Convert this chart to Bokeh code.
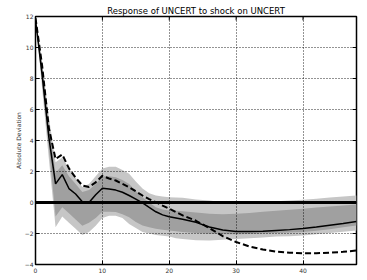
from bokeh.plotting import figure
from bokeh.models import (ColumnDataSource, Range1d, FixedTicker, Span,
                          CustomJSTickFormatter)
from bokeh.embed import file_html
from bokeh.resources import INLINE

# ---- data ----
steps = [0, 1, 2, 3, 4, 5, 6, 7, 8, 9, 10, 11, 12, 13, 14, 15, 16, 17, 18, 19, 20,
         21, 22, 24, 26, 28, 30, 32, 34, 36, 38, 40, 42, 44, 46, 48]
median = [11.8, 8.2, 4.2, 1.2, 1.8, 0.9, 0.55, 0.05, 0.0, 0.5, 0.92, 0.87, 0.8, 0.66, 0.45,
          0.22, -0.03, -0.32, -0.6, -0.8, -0.92, -1.0, -1.08, -1.28, -1.58, -1.78, -1.87,
          -1.87, -1.85, -1.8, -1.75, -1.68, -1.58, -1.47, -1.36, -1.23]
point_est = [11.9, 8.8, 4.8, 2.8, 3.1, 2.2, 1.6, 1.1, 1.0, 1.3, 1.72, 1.55, 1.42, 1.2, 0.99,
             0.72, 0.45, 0.22, 0.02, -0.2, -0.4, -0.62, -0.83, -1.18, -1.65, -2.17, -2.55,
             -2.84, -3.03, -3.17, -3.24, -3.27, -3.27, -3.24, -3.18, -3.1]
outer_hi = [12.0, 9.0, 5.5, 2.6, 2.9, 2.2, 1.6, 1.0, 1.2, 1.7, 2.2, 2.3, 2.3, 2.1, 1.85,
            1.35, 0.9, 0.6, 0.45, 0.38, 0.34, 0.32, 0.3, 0.2, 0.13, 0.02, -0.1,
            -0.05, 0.02, 0.08, 0.13, 0.18, 0.25, 0.32, 0.38, 0.45]
inner_hi = [12.0, 8.8, 5.0, 1.9, 2.4, 1.7, 1.2, 0.67, 0.8, 1.2, 1.7, 1.7, 1.63, 1.45, 1.2,
            0.75, 0.34, 0.0, -0.3, -0.45, -0.52, -0.54, -0.56, -0.65, -0.72, -0.75, -0.73,
            -0.68, -0.6, -0.53, -0.46, -0.4, -0.33, -0.26, -0.2, -0.13]
inner_lo = [12.0, 7.8, 3.5, -0.9, -0.3, -0.7, -1.1, -1.5, -1.3, -1.0, -0.6, -0.6, -0.62, -0.75,
            -0.95, -1.25, -1.48, -1.6, -1.7, -1.75, -1.8, -1.85, -1.9, -1.97, -2.02, -2.05,
            -2.05, -2.03, -2.0, -1.97, -1.93, -1.9, -1.82, -1.72, -1.6, -1.48]
outer_lo = [12.0, 7.3, 2.8, -1.6, -0.9, -1.3, -1.7, -2.1, -1.9, -1.5, -1.0, -0.85, -0.85, -1.0,
            -1.38, -1.65, -1.9, -2.0, -2.1, -2.15, -2.2, -2.3, -2.35, -2.43, -2.45, -2.4,
            -2.35, -2.3, -2.25, -2.2, -2.17, -2.13, -2.05, -1.97, -1.88, -1.8]
x_ticks = [0, 10, 20, 30, 40]
y_ticks = [-4, -2, 0, 2, 4, 6, 8, 10, 12]
x_lim = (0, 48)
y_lim = (-4, 12)
title_text = "Response of UNCERT to shock on UNCERT"
y_label = "Absolute Deviation"

src = ColumnDataSource(dict(x=steps, med=median, est=point_est, ohi=outer_hi,
                            olo=outer_lo, ihi=inner_hi, ilo=inner_lo))

p = figure(width=362, height=278, output_backend="svg", toolbar_location=None,
           x_range=Range1d(*x_lim), y_range=Range1d(*y_lim),
           min_border_left=35, min_border_right=6, min_border_top=16, min_border_bottom=14)
p.background_fill_color = "white"
p.border_fill_color = "white"
p.outline_line_color = "black"
p.outline_line_width = 1.5

p.title.text = title_text
p.title.align = "center"
p.title.text_font = "DejaVu Sans"
p.title.text_font_size = "8.5px"
p.title.text_font_style = "normal"
p.title.text_color = "black"
p.title.standoff = 1
p.title.offset = 0

p.varea(x="x", y1="olo", y2="ohi", source=src, fill_color="#c6c6c6")
p.varea(x="x", y1="ilo", y2="ihi", source=src, fill_color="#a0a0a0")
p.add_layout(Span(location=0, dimension="width", line_color="black", line_width=3))
p.line(x="x", y="med", source=src, line_color="black", line_width=1.5)
p.line(x="x", y="est", source=src, line_color="black", line_width=2, line_dash="6 3")

# mirrored inward ticks on the right and top edges
tick_len_x = 0.6
tick_len_y = 0.25
p.segment(x0=[x_lim[1] - tick_len_x] * len(y_ticks), x1=[x_lim[1]] * len(y_ticks),
          y0=y_ticks, y1=y_ticks, line_color="black", line_width=1)
p.segment(x0=x_ticks, x1=x_ticks, y0=[y_lim[1] - tick_len_y] * len(x_ticks),
          y1=[y_lim[1]] * len(x_ticks), line_color="black", line_width=1)

fmt = CustomJSTickFormatter(code="return tick < 0 ? '\u2212' + Math.abs(tick) : tick.toString();")

for ax, ticks in ((p.xaxis[0], x_ticks), (p.yaxis[0], y_ticks)):
    ax.ticker = FixedTicker(ticks=ticks)
    ax.formatter = fmt
    ax.major_tick_in = 4
    ax.major_tick_out = 0
    ax.minor_tick_line_color = None
    ax.axis_line_color = None
    ax.major_tick_line_color = "black"
    ax.major_label_text_font = "DejaVu Sans"
    ax.major_label_text_font_size = "6px"
    ax.major_label_text_color = "#333333"
    ax.major_label_standoff = 3

p.yaxis[0].axis_label = y_label
p.yaxis[0].axis_label_text_font = "DejaVu Sans"
p.yaxis[0].axis_label_text_font_size = "6px"
p.yaxis[0].axis_label_text_font_style = "normal"
p.yaxis[0].axis_label_text_color = "#333333"
p.yaxis[0].axis_label_standoff = 0
p.yaxis[0].major_label_standoff = 2

for g, ticks in ((p.xgrid[0], x_ticks), (p.ygrid[0], y_ticks)):
    g.ticker = FixedTicker(ticks=ticks)
    g.grid_line_color = "black"
    g.grid_line_dash = "1 2"
    g.grid_line_width = 1
    g.grid_line_alpha = 0.85
    g.level = "overlay"

open("out.html", "w").write(file_html(p, INLINE))
